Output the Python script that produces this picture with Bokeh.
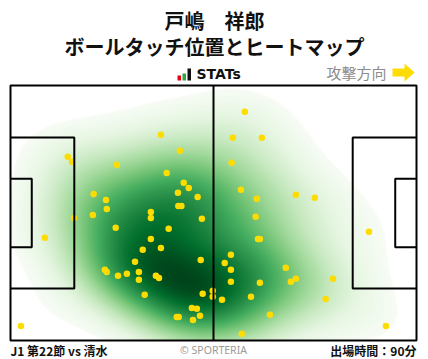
import numpy as np
from bokeh.plotting import figure
from bokeh.models import Label, LinearColorMapper, Range1d
from bokeh.palettes import Greens256
from bokeh.embed import file_html
from bokeh.resources import INLINE

# ---------------- data (pitch metres, x: 0-105 attack to the right, y: 0-68) ----------------
touch_x = [38.9, 43.8, 14.8, 15.9, 27.5, 40.4, 44.8, 46.1, 43.3, 48.4,
           21.5, 24.7, 24.9, 43.4, 44.2, 36.3, 21.3, 16.4, 36.3, 49.5,
           8.9, 27.2, 40.9, 36.3, 38.9, 34.2, 32.2, 49.2, 24.4, 24.9,
           27.8, 30.1, 33.2, 33.2, 37.6, 38.4, 34.7, 49.7, 52.3, 52.3,
           46.9, 48.2, 49.0, 47.2, 43.0, 43.5, 2.7, 60.6, 57.5, 65.0,
           57.2, 59.6, 63.7, 73.8, 78.7, 63.4, 64.0, 64.5, 92.7, 57.0,
           55.4, 57.0, 71.2, 57.0, 64.5, 72.5, 73.8, 83.4, 54.7, 62.2,
           81.5, 67.1, 59.8, 97.1]
touch_y = [54.9, 50.6, 49.0, 47.7, 46.9, 44.7, 42.1, 40.7, 39.4, 38.3,
           39.1, 37.5, 35.1, 35.9, 35.9, 34.3, 33.5, 32.7, 32.7, 32.5,
           27.4, 30.1, 29.8, 27.1, 24.7, 24.2, 21.0, 21.5, 18.9, 18.3,
           17.3, 17.8, 18.3, 16.2, 17.3, 16.7, 12.2, 12.5, 13.3, 11.7,
           8.7, 8.5, 6.6, 5.5, 6.3, 6.3, 3.9, 61.0, 54.1, 54.1,
           47.4, 40.2, 37.8, 38.9, 38.1, 33.0, 27.1, 27.1, 29.0, 22.9,
           20.7, 18.9, 19.4, 15.7, 15.4, 15.7, 16.5, 16.5, 10.9, 11.7,
           11.1, 6.9, 1.8, 3.9]

player_name = "戸嶋　祥郎"
chart_title = "ボールタッチ位置とヒートマップ"
match_label = "J1 第22節 vs 清水"
minutes_label = "出場時間：90分"
direction_label = "攻撃方向"
credit_label = "© SPORTERIA"

PITCH_LEN, PITCH_WID = 105.0, 68.0
PEN_DEPTH, PEN_WIDTH = 16.5, 40.32
GOAL_DEPTH, GOAL_WIDTH = 5.5, 18.32

# ---------------- placement helpers (image pixels -> data units) ----------------
SX = 406.0 / PITCH_LEN
SY = 255.0 / PITCH_WID
def X(px):
    return (px - 10.0) / SX
def Y(py):
    return (340.0 - py) / SY

W, H = 428, 359
p = figure(width=W, height=H, x_range=Range1d(X(0), X(W)), y_range=Range1d(Y(H), Y(0)),
           output_backend="svg", toolbar_location=None, min_border=0)
p.axis.visible = False
p.grid.visible = False
p.outline_line_color = None
p.background_fill_color = "white"
p.border_fill_color = "white"

# ---------------- heat map: gaussian KDE of the touches ----------------
BW_ADJUST = 1.2
MASS_THRESH = 0.07
pts = np.column_stack([touch_x, touch_y])
n = len(pts)
cov = np.cov(pts.T) * n ** (-1.0 / 3.0) * BW_ADJUST ** 2
inv = np.linalg.inv(cov)

def kde(GX, GY):
    D = np.zeros_like(GX)
    for (px_, py_) in pts:
        dx = GX - px_
        dy = GY - py_
        D += np.exp(-0.5 * (inv[0, 0] * dx * dx + 2 * inv[0, 1] * dx * dy + inv[1, 1] * dy * dy))
    return D

# extended grid (3 bandwidths beyond the data) to find the lowest iso-proportion level
bw = np.sqrt(np.diag(cov))
ex = np.linspace(min(touch_x) - 3 * bw[0], max(touch_x) + 3 * bw[0], 300)
ey = np.linspace(min(touch_y) - 3 * bw[1], max(touch_y) + 3 * bw[1], 240)
EX, EY = np.meshgrid(ex, ey)
DE = np.sort(kde(EX, EY).ravel())
cum = np.cumsum(DE) / DE.sum()
level = DE[np.searchsorted(cum, MASS_THRESH)]

gx = np.linspace(0, PITCH_LEN, 407)
gy = np.linspace(0, PITCH_WID, 256)
GX, GY = np.meshgrid(gx, gy)
D = kde(GX, GY)
mapper = LinearColorMapper(palette=list(reversed(Greens256)), low=level, high=DE.max(), low_color="white")
p.image(image=[D], x=0, y=0, dw=PITCH_LEN, dh=PITCH_WID, color_mapper=mapper)

# ---------------- touches ----------------
p.scatter(touch_x, touch_y, size=6.5, fill_color="#ffdc00", line_color=None)

# ---------------- pitch lines ----------------
lc, lw = "black", 2
p.rect(x=PITCH_LEN / 2, y=PITCH_WID / 2, width=PITCH_LEN, height=PITCH_WID,
       fill_color=None, line_color=lc, line_width=lw)
p.line([PITCH_LEN / 2, PITCH_LEN / 2], [0, PITCH_WID], line_color=lc, line_width=lw)
for x0, sgn in [(0.0, 1), (PITCH_LEN, -1)]:
    p.line([x0, x0 + sgn * PEN_DEPTH, x0 + sgn * PEN_DEPTH, x0],
           [PITCH_WID / 2 + PEN_WIDTH / 2, PITCH_WID / 2 + PEN_WIDTH / 2,
            PITCH_WID / 2 - PEN_WIDTH / 2, PITCH_WID / 2 - PEN_WIDTH / 2],
           line_color=lc, line_width=lw)
    p.line([x0, x0 + sgn * GOAL_DEPTH, x0 + sgn * GOAL_DEPTH, x0],
           [PITCH_WID / 2 + GOAL_WIDTH / 2, PITCH_WID / 2 + GOAL_WIDTH / 2,
            PITCH_WID / 2 - GOAL_WIDTH / 2, PITCH_WID / 2 - GOAL_WIDTH / 2],
           line_color=lc, line_width=lw)

# ---------------- header ----------------
JP = "Noto Sans CJK JP"
p.add_layout(Label(x=X(214), y=Y(20), text=player_name, text_font=JP, text_font_size="20px",
                   text_font_style="bold", text_align="center", text_baseline="middle", text_color="#111111"))
p.add_layout(Label(x=X(214), y=Y(46), text=chart_title, text_font=JP, text_font_size="20px",
                   text_font_style="bold", text_align="center", text_baseline="middle", text_color="#111111"))
# STATs logo
p.quad(left=[X(177), X(182), X(187)], right=[X(180.5), X(185.5), X(190.5)],
       bottom=[Y(80)] * 3, top=[Y(75), Y(73), Y(68)],
       fill_color=["#e60012", "#2fa83f", "#111111"], line_color=None)
p.add_layout(Label(x=X(196), y=Y(73.5), text="STATs", text_font="DejaVu Sans", text_font_size="14px",
                   text_font_style="bold", text_align="left", text_baseline="middle", text_color="#111111"))
p.add_layout(Label(x=X(356), y=Y(72), text=direction_label, text_font=JP, text_font_size="15px",
                   text_align="center", text_baseline="middle", text_color="#8c8c8c"))
p.patch([X(392), X(404), X(404), X(414), X(404), X(404), X(392)],
        [Y(68), Y(68), Y(63), Y(72), Y(81), Y(76), Y(76)],
        fill_color="#ffdc00", line_color=None)

# ---------------- footer ----------------
p.add_layout(Label(x=X(10), y=Y(350), text=match_label, text_font=JP, text_font_size="12px",
                   text_font_style="bold", text_align="left", text_baseline="middle", text_color="#111111"))
p.add_layout(Label(x=X(213), y=Y(349.5), text=credit_label, text_font="Noto Sans", text_font_size="10.5px",
                   text_align="center", text_baseline="middle", text_color="#9a9a9a"))
p.add_layout(Label(x=X(416), y=Y(350), text=minutes_label, text_font=JP, text_font_size="12px",
                   text_font_style="bold", text_align="right", text_baseline="middle", text_color="#111111"))

open("out.html", "w").write(file_html(p, INLINE))
